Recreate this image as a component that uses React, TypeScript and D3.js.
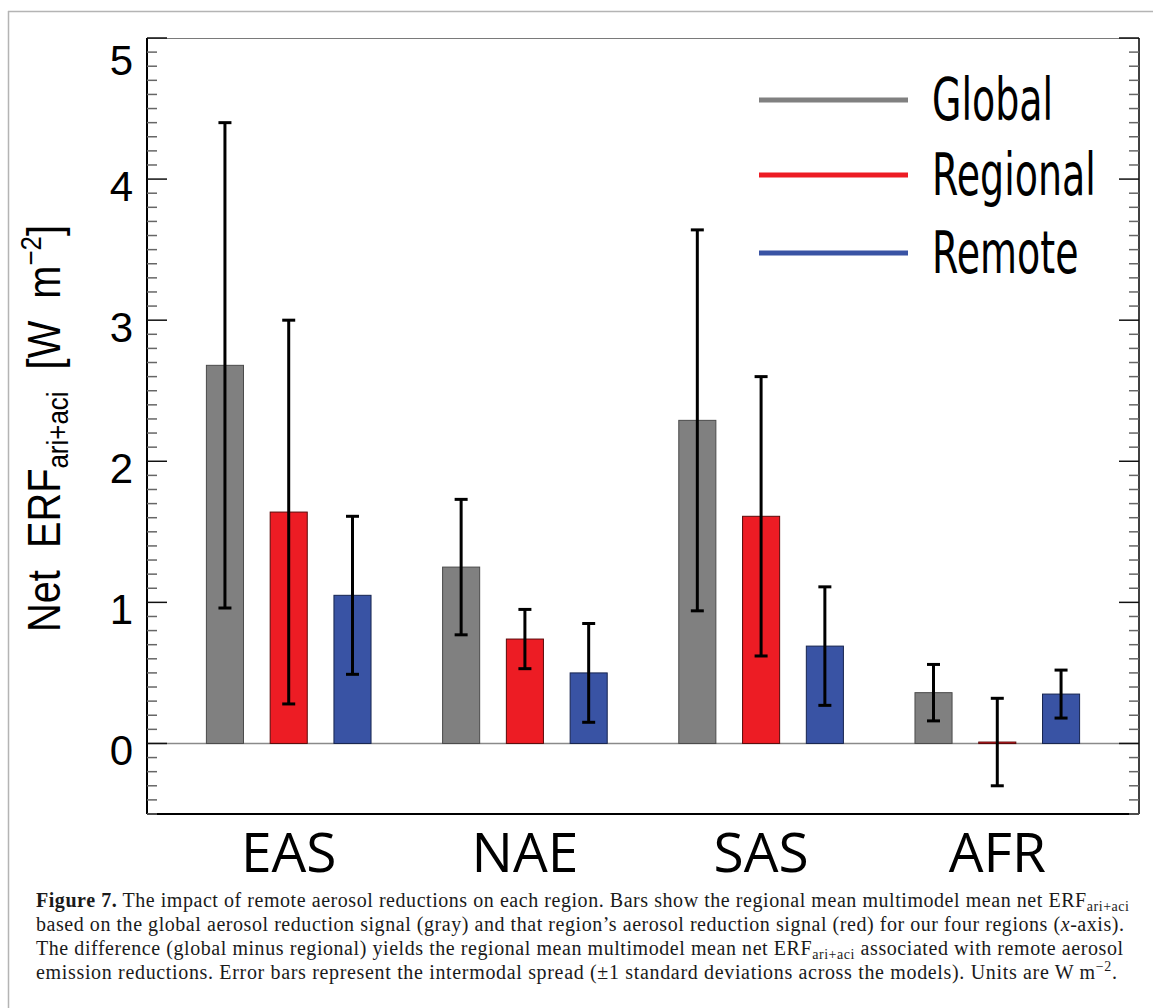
import React from 'react';
import * as d3 from 'd3';

const categories = ['EAS', 'NAE', 'SAS', 'AFR'];
const seriesNames = ['Global', 'Regional', 'Remote'];
const seriesColors = ['#808080', '#ed1c24', '#3953a4'];
const seriesStrokes = ['#4a4a4a', '#5a0a0a', '#16244f'];

const globalMean = [2.68, 1.25, 2.29, 0.36];
const globalSd = [1.72, 0.48, 1.35, 0.2];
const regionalMean = [1.64, 0.74, 1.61, 0.01];
const regionalSd = [1.36, 0.21, 0.99, 0.31];
const remoteMean = [1.05, 0.5, 0.69, 0.35];
const remoteSd = [0.56, 0.35, 0.42, 0.17];

const yTickValues = [0, 1, 2, 3, 4, 5];

const W = 1153, H = 1008;
const plot = {left: 147, right: 1139, top: 38, bottom: 814};
const sp = '\u00a0\u00a0';

const App: React.FC = () => {
  const x = d3.scaleLinear().domain([0.4, 4.6]).range([plot.left, plot.right]);
  const y = d3.scaleLinear().domain([-0.5, 5]).range([plot.bottom, plot.top]);

  const offsets = [-0.27, 0, 0.27];
  const barW = 0.157;
  const means = [globalMean, regionalMean, remoteMean];
  const sds = [globalSd, regionalSd, remoteSd];

  // one record per bar
  const bars = categories.flatMap((cat, i) =>
    seriesNames.map((name, s) => ({
      cat, s, pos: i + 1 + offsets[s],
      value: means[s][i], sd: sds[s][i]
    }))
  );

  const minorTicks = d3.range(-5, 51).map(i => i / 10).filter(v => Math.abs(v - Math.round(v)) > 1e-6);
  const capHalf = 6.5;

  return (
    <svg width={W} height={H} style={{position: 'absolute', left: 0, top: 0, background: '#fff'}}>
      {/* page frame */}
      <line x1={8.5} x2={8.5} y1={11} y2={H} stroke="#b4b4b4" strokeWidth={1.5}/>
      <line x1={8} x2={W} y1={11.5} y2={11.5} stroke="#b4b4b4" strokeWidth={1.5}/>

      {/* zero line */}
      <line x1={plot.left} x2={plot.right} y1={y(0)} y2={y(0)} stroke="#8a8a8a" strokeWidth={1.5}/>

      {/* bars */}
      {bars.map((d, k) => {
        const x0 = x(d.pos - barW / 2), x1 = x(d.pos + barW / 2);
        const top = Math.min(y(d.value), y(0)), h = Math.abs(y(0) - y(d.value));
        return (
          <rect key={'b' + k} x={x0} y={top} width={x1 - x0} height={Math.max(h, 1.5)}
                fill={seriesColors[d.s]} stroke={seriesStrokes[d.s]} strokeWidth={1}/>
        );
      })}

      {/* error bars */}
      {bars.map((d, k) => {
        const cx = x(d.pos);
        const hi = y(d.value + d.sd), lo = y(d.value - d.sd);
        return (
          <g key={'e' + k} stroke="#000" strokeWidth={3}>
            <line x1={cx} x2={cx} y1={hi} y2={lo}/>
            <line x1={cx - capHalf} x2={cx + capHalf} y1={hi} y2={hi}/>
            <line x1={cx - capHalf} x2={cx + capHalf} y1={lo} y2={lo}/>
          </g>
        );
      })}

      {/* axes frame */}
      <line x1={plot.left} x2={plot.right} y1={plot.top + 0.5} y2={plot.top + 0.5} stroke="#7a7a7a" strokeWidth={1}/>
      <line x1={plot.left} x2={plot.right} y1={plot.bottom} y2={plot.bottom} stroke="#000" strokeWidth={2}/>
      <line x1={plot.left} x2={plot.left} y1={plot.top} y2={plot.bottom} stroke="#000" strokeWidth={2}/>
      <line x1={plot.right} x2={plot.right} y1={plot.top} y2={plot.bottom} stroke="#000" strokeWidth={1.5}/>

      {/* y ticks, both sides */}
      {minorTicks.map(v => (
        <g key={'m' + v} stroke="#666" strokeWidth={1.5}>
          <line x1={plot.left} x2={plot.left + 10} y1={y(v)} y2={y(v)}/>
          <line x1={plot.right - 10} x2={plot.right} y1={y(v)} y2={y(v)}/>
        </g>
      ))}
      {yTickValues.map(v => (
        <g key={'M' + v} stroke="#111" strokeWidth={1.5}>
          <line x1={plot.left} x2={plot.left + 20} y1={y(v)} y2={y(v)}/>
          <line x1={plot.right - 20} x2={plot.right} y1={y(v)} y2={y(v)}/>
        </g>
      ))}
      {yTickValues.map(v => (
        <text key={'t' + v} x={133} y={Math.max(y(v), y(5) + 15) + 22} textAnchor="end"
              fontFamily="Liberation Sans, Arial, sans-serif" fontSize={42} fill="#000">{v}</text>
      ))}

      {/* y axis title */}
      <text transform={`translate(60, ${(225 + 632) / 2}) rotate(-90)`} textAnchor="middle"
            fontFamily="Liberation Sans, Arial, sans-serif" fontSize={46} fill="#000"
            textLength={407} lengthAdjust="spacingAndGlyphs">
        <tspan>{'Net' + sp + 'ERF'}</tspan>
        <tspan fontSize={30} dy={8}>ari+aci</tspan>
        <tspan dy={-8}>{sp + '[W' + sp + 'm'}</tspan>
        <tspan fontSize={30} dy={-19}>−2</tspan>
        <tspan dy={19}>]</tspan>
      </text>

      {/* category labels */}
      {categories.map((c, i) => (
        <text key={c} x={x(i + 1)} y={872} textAnchor="middle"
              fontFamily="Open Sans, Noto Sans, sans-serif" fontSize={55} fill="#000">{c}</text>
      ))}

      {/* legend */}
      {seriesNames.map((n, s) => {
        const ly = [100, 175, 253][s];
        return (
          <g key={n}>
            <line x1={759} x2={908} y1={ly} y2={ly} stroke={seriesColors[s]} strokeWidth={5}/>
            <text transform={`translate(932, ${ly + 20}) scale(0.655, 1)`}
                  fontFamily="DejaVu Sans, sans-serif" fontSize={58} fill="#000">{n}</text>
          </g>
        );
      })}

      {/* caption */}
      <g fontFamily="Liberation Serif, Times New Roman, serif" fontSize={20} fill="#1a1a1a">
        <text x={36} y={907} textLength={1093} lengthAdjust="spacing">
          <tspan fontWeight="bold">Figure 7.</tspan> The impact of remote aerosol reductions on each region. Bars show the regional mean multimodel mean net ERF<tspan fontSize={14} dy={4}>ari+aci</tspan>
        </text>
        <text x={36} y={931} textLength={1088} lengthAdjust="spacing">
          based on the global aerosol reduction signal (gray) and that region’s aerosol reduction signal (red) for our four regions (<tspan fontStyle="italic">x</tspan>-axis).
        </text>
        <text x={36} y={955} textLength={1087} lengthAdjust="spacing">
          The difference (global minus regional) yields the regional mean multimodel mean net ERF<tspan fontSize={14} dy={4}>ari+aci</tspan><tspan dy={-4}> associated with remote aerosol</tspan>
        </text>
        <text x={36} y={979} textLength={1081} lengthAdjust="spacing">
          emission reductions. Error bars represent the intermodal spread (±1 standard deviations across the models). Units are W m<tspan fontSize={14} dy={-8}>−2</tspan><tspan dy={8}>.</tspan>
        </text>
      </g>
    </svg>
  );
};

export default App;
